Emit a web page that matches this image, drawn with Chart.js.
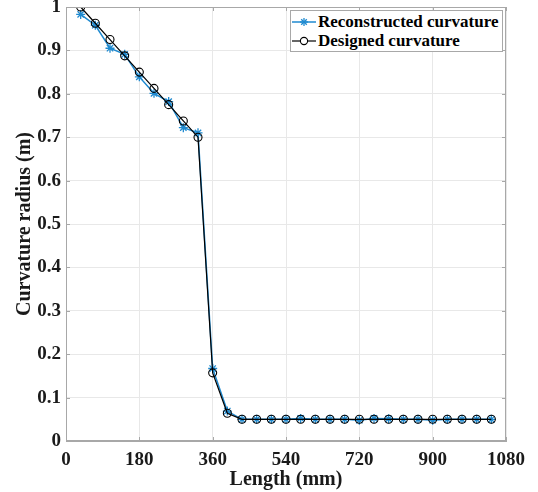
<!DOCTYPE html>
<html lang="en">
<head>
    <meta charset="UTF-8">
    <title>Curvature radius</title>
    <script src="https://cdn.jsdelivr.net/npm/chart.js"></script>
    <style>
        body { margin: 0; background: #fff; }
        #wrap { position: relative; width: 538px; height: 492px; }
        #legend {
            position: absolute; left: 290px; top: 10px; width: 211px; height: 40px;
            border: 1px solid #a8a8a8; background: #fff;
            font-family: "Liberation Serif", "Times New Roman", serif; font-weight: bold; font-size: 17px;
        }
        .row { position: absolute; left: 0; height: 20px; line-height: 20px; white-space: nowrap; }
        .row svg { position: absolute; left: 1px; top: 4px; }
        .row span { position: absolute; left: 27px; color: #000; }
    </style>
</head>
<body>
<div id="wrap">
    <canvas id="curvChart" width="538" height="492"></canvas>
    <!-- legende dans la zone du graphe, comme matlab -->
    <div id="legend">
        <div class="row" style="top:1px">
            <svg width="24" height="12"><line x1="0" y1="6" x2="24" y2="6" stroke="#1f8ad0" stroke-width="1.5"/>
                <g stroke="#1f8ad0" stroke-width="1.3"><line x1="12" y1="2" x2="12" y2="10"/><line x1="8" y1="6" x2="16" y2="6"/><line x1="9.2" y1="3.2" x2="14.8" y2="8.8"/><line x1="9.2" y1="8.8" x2="14.8" y2="3.2"/></g></svg>
            <span>Reconstructed curvature</span>
        </div>
        <div class="row" style="top:20px">
            <svg width="24" height="12"><line x1="0" y1="6" x2="24" y2="6" stroke="#000" stroke-width="1.2"/>
                <circle cx="12" cy="6" r="3.6" fill="#fff" stroke="#000" stroke-width="1.1"/></svg>
            <span>Designed curvature</span>
        </div>
    </div>
</div>

<script>
    const lengthMm = [36, 72, 108, 144, 180, 216, 252, 288, 324, 360, 396, 432, 468, 504, 540, 576, 612, 648, 684, 720, 756, 792, 828, 864, 900, 936, 972, 1008, 1044];
    const designed = [1.0, 0.9625, 0.925, 0.8875, 0.85, 0.8125, 0.775, 0.7375, 0.70, 0.157, 0.064, 0.05, 0.05, 0.05, 0.05, 0.05, 0.05, 0.05, 0.05, 0.05, 0.05, 0.05, 0.05, 0.05, 0.05, 0.05, 0.05, 0.05, 0.05];
    const reconstructed = [0.983, 0.958, 0.905, 0.891, 0.839, 0.801, 0.782, 0.722, 0.710, 0.167, 0.069, 0.05, 0.05, 0.05, 0.05, 0.052, 0.05, 0.05, 0.05, 0.048, 0.052, 0.051, 0.05, 0.05, 0.048, 0.05, 0.05, 0.05, 0.05];
    const xTicks = [0, 180, 360, 540, 720, 900, 1080];
    const yTicks = [0, 0.1, 0.2, 0.3, 0.4, 0.5, 0.6, 0.7, 0.8, 0.9, 1];

    const serif = '"Liberation Serif", "Times New Roman", serif';
    Chart.defaults.font.family = serif;
    Chart.defaults.font.weight = 'bold';

    function toPoints(ys) {
        return lengthMm.map((x, i) => ({ x: x, y: ys[i] }));
    }

    // cadre autour de la zone de trace + petites graduations vers l'interieur
    const boxPlugin = {
        id: 'box',
        afterDraw(chart) {
            const a = chart.chartArea, ctx = chart.ctx;
            const sx = chart.scales.x, sy = chart.scales.y;
            ctx.save();
            ctx.strokeStyle = '#a8a8a8';
            ctx.lineWidth = 1;
            ctx.strokeRect(a.left + 0.5, a.top + 0.5, a.right - a.left - 1, a.bottom - a.top - 1);
            ctx.beginPath();
            yTicks.forEach(v => {
                const y = Math.round(sy.getPixelForValue(v)) + 0.5;
                ctx.moveTo(a.left, y); ctx.lineTo(a.left + 4, y);
                ctx.moveTo(a.right, y); ctx.lineTo(a.right - 4, y);
            });
            xTicks.forEach(v => {
                const x = Math.round(sx.getPixelForValue(v)) + 0.5;
                ctx.moveTo(x, a.bottom); ctx.lineTo(x, a.bottom - 4);
                ctx.moveTo(x, a.top); ctx.lineTo(x, a.top + 4);
            });
            ctx.stroke();
            ctx.restore();
        }
    };

    const ctx = document.getElementById('curvChart').getContext('2d');
    const curvChart = new Chart(ctx, {
        type: 'line',
        data: {
            datasets: [
                { label: 'Designed curvature', data: toPoints(designed), borderColor: '#000', borderWidth: 1.2,
                  pointStyle: 'circle', pointRadius: 4, pointBorderWidth: 1.1, pointBorderColor: '#000',
                  pointBackgroundColor: 'rgba(0,0,0,0)', fill: false, tension: 0, order: 1 },
                { label: 'Reconstructed curvature', data: toPoints(reconstructed), borderColor: '#1f8ad0', borderWidth: 1.5,
                  pointStyle: 'star', pointRadius: 4.5, pointBorderWidth: 1.3, pointBorderColor: '#1f8ad0',
                  pointBackgroundColor: '#1f8ad0', fill: false, tension: 0, order: 2 }
            ]
        },
        options: {
            responsive: false,
            animation: false,
            layout: { padding: { top: 7, right: 32, left: 0, bottom: 0 } },
            plugins: { legend: { display: false }, tooltip: { enabled: false } },
            scales: {
                x: {
                    type: 'linear', min: 0, max: 1080,
                    afterBuildTicks(s) { s.ticks = xTicks.map(v => ({ value: v })); },
                    afterFit(s) { s.height = 51; s.paddingLeft = 0; s.paddingRight = 0; },
                    grid: { color: '#e8e8e8', drawTicks: false },
                    border: { color: '#a8a8a8' },
                    ticks: { padding: 8, color: '#1a1a1a', font: { family: serif, size: 19, weight: 'bold' },
                             callback: v => String(v) },
                    title: { display: true, text: 'Length (mm)', color: '#1a1a1a', padding: { top: 0, bottom: 0 },
                             font: { family: serif, size: 20, weight: 'bold' } }
                },
                y: {
                    type: 'linear', min: 0, max: 1,
                    afterBuildTicks(s) { s.ticks = yTicks.map(v => ({ value: v })); },
                    afterFit(s) { s.width = 66; s.paddingTop = 0; s.paddingBottom = 0; },
                    grid: { color: '#e8e8e8', drawTicks: false },
                    border: { color: '#a8a8a8' },
                    ticks: { padding: 5, color: '#1a1a1a', font: { family: serif, size: 19, weight: 'bold' },
                             callback: v => String(Math.round(v * 10) / 10) },
                    title: { display: true, text: 'Curvature radius (m)', color: '#1a1a1a', padding: { top: 13, bottom: 0 },
                             font: { family: serif, size: 20, weight: 'bold' } }
                }
            }
        },
        plugins: [boxPlugin]
    });
</script>
</body>
</html>
